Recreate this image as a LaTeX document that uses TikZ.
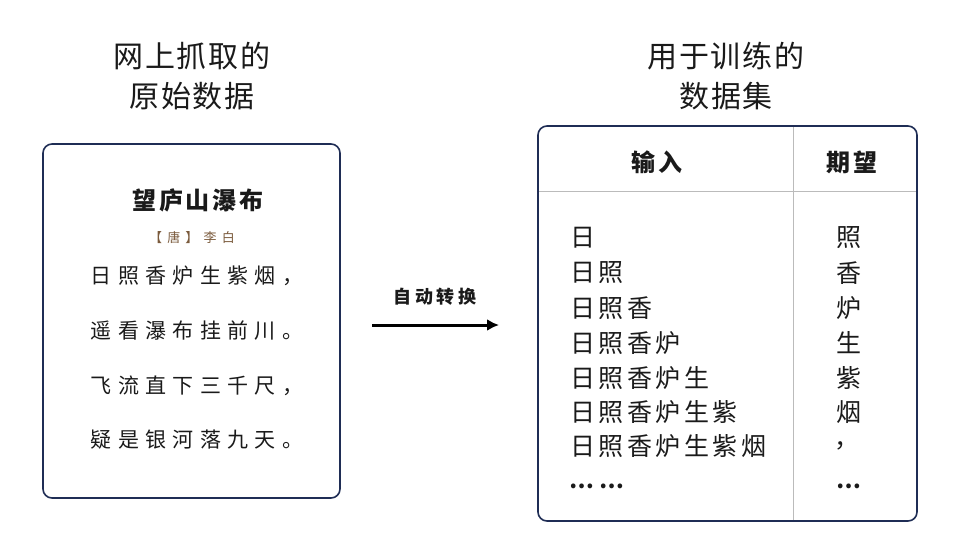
\documentclass[tikz,border=0pt]{standalone}
\usepackage{fontspec}
\usetikzlibrary{arrows.meta}
\setmainfont{Noto Sans CJK SC}
\newfontfamily\hdfont[LetterSpace=6]{Noto Sans CJK SC}
\newfontfamily\poemfont[LetterSpace=30]{Noto Sans CJK SC}
\newfontfamily\titlefont[LetterSpace=12]{Noto Sans CJK SC}
\newfontfamily\rowfont[LetterSpace=14]{Noto Sans CJK SC}
\newfontfamily\authfont[LetterSpace=40]{Noto Sans CJK SC}
\newfontfamily\lblfont[LetterSpace=22]{Noto Sans CJK SC}
\definecolor{navy}{HTML}{1F2D55}
\definecolor{gridgray}{HTML}{BBBBBB}
\definecolor{authbrown}{HTML}{7A5A3C}
\definecolor{ink}{HTML}{1A1A1A}
\tikzset{
  panel/.style={draw=navy, line width=1.6pt, rounded corners=9pt},
  hdtext/.style={font=\hdfont\fontsize{30}{40}\selectfont, align=center, text=ink},
  poem/.style={font=\poemfont\fontsize{21}{24}\selectfont, text=ink, inner sep=0pt},
  row/.style={font=\rowfont\fontsize{25}{28}\selectfont, text=ink, anchor=west, inner sep=0pt},
  exp/.style={font=\fontsize{25}{28}\selectfont, text=ink, inner sep=0pt},
  colhd/.style={font=\titlefont\bfseries\fontsize{24}{28}\selectfont, text=ink, inner sep=0pt},
  divider/.style={draw=gridgray, line width=1pt}
}
\begin{document}
\begin{tikzpicture}[x=1pt,y=-1pt]
\useasboundingbox (0,0) rectangle (962,555);
% headers
\node[hdtext] (lhd) at (192,76) {网上抓取的\\原始数据};
\node[hdtext] (rhd) at (726,76) {用于训练的\\数据集};
% left panel
\draw[panel] (43,144) rectangle (340,498);
\node[font=\titlefont\bfseries\fontsize{24}{28}\selectfont, text=ink, inner sep=0pt] (title) at (198,200) {望庐山瀑布};
\node[font=\authfont\fontsize{13}{15}\selectfont, text=authbrown, inner sep=0pt] (auth) at (192,238) {【唐】李白};
\node[poem] (l1) at (197,276) {日照香炉生紫烟，};
\node[poem] (l2) at (197,331) {遥看瀑布挂前川。};
\node[poem] (l3) at (197,386) {飞流直下三千尺，};
\node[poem] (l4) at (197,440) {疑是银河落九天。};
% arrow
\coordinate (as) at (372,325);
\coordinate (ae) at (499,325);
\draw[line width=3pt, -{Latex[length=12pt,width=12pt]}] (as) -- (ae);
\node[font=\lblfont\bfseries\fontsize{18}{20}\selectfont, text=ink, inner sep=0pt] (lbl) at (435,297) {自动转换};
% right panel
\draw[panel] (538,126) rectangle (917,521);
\coordinate (vt) at (793,127);
\coordinate (vb) at (793,520);
\coordinate (hl) at (539,191);
\coordinate (hr) at (916,191);
\draw[divider] (vt) -- (vb);
\draw[divider] (hl) -- (hr);
\node[colhd] (inhd) at (657,162) {输入};
\node[colhd] (exhd) at (852,162) {期望};
\node[row] (r1) at (570,238) {日};
\node[row] (r2) at (570,273) {日照};
\node[row] (r3) at (570,308) {日照香};
\node[row] (r4) at (570,343) {日照香炉};
\node[row] (r5) at (570,378) {日照香炉生};
\node[row] (r6) at (570,412) {日照香炉生紫};
\node[row] (r7) at (570,446) {日照香炉生紫烟};
\node[row, font=\bfseries\fontsize{22}{24}\selectfont] (r8) at (569,486) {…\hspace{6pt}…};
\node[exp] (e1) at (849,238) {照};
\node[exp] (e2) at (849,273) {香};
\node[exp] (e3) at (849,308) {炉};
\node[exp] (e4) at (849,343) {生};
\node[exp] (e5) at (849,378) {紫};
\node[exp] (e6) at (849,412) {烟};
\node[exp] (e7) at (847,446) {，};
\node[exp, font=\bfseries\fontsize{22}{24}\selectfont] (e8) at (849,486) {…};
\end{tikzpicture}
\end{document}
